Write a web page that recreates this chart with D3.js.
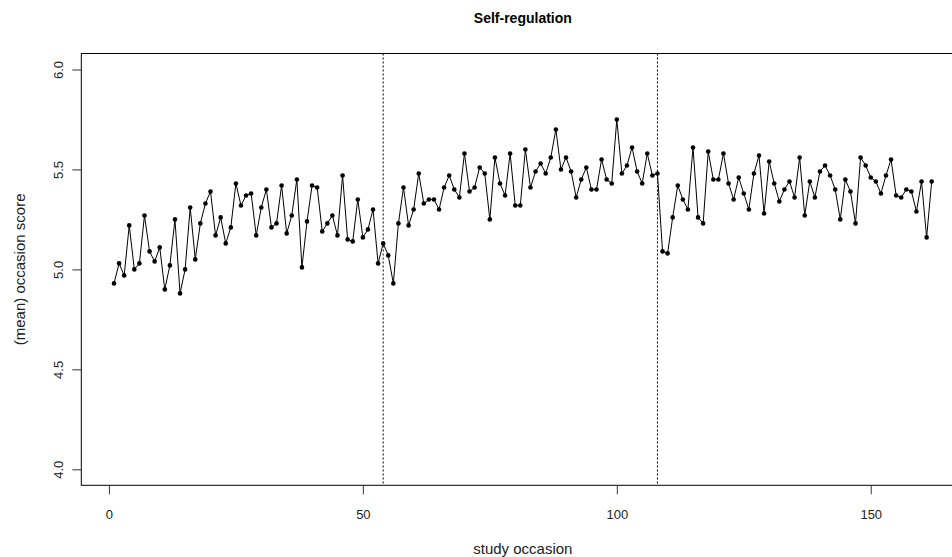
<!DOCTYPE html>
<html>
<head>
<meta charset="utf-8">
<script src="https://cdn.jsdelivr.net/npm/d3@7"></script>
<style>
  body { margin: 0; background: #fff; }
  svg { display: block; font-family: "Liberation Sans", Arial, sans-serif; }
</style>
</head>
<body>
<div id="graf"></div>
<script>
// mean self-regulation score per study occasion (1..162)
const scores = [
  4.93, 5.03, 4.97, 5.22, 5.00, 5.03, 5.27, 5.09, 5.04, 5.11,
  4.90, 5.02, 5.25, 4.88, 5.00, 5.31, 5.05, 5.23, 5.33, 5.39,
  5.17, 5.26, 5.13, 5.21, 5.43, 5.32, 5.37, 5.38, 5.17, 5.31,
  5.40, 5.21, 5.23, 5.42, 5.18, 5.27, 5.45, 5.01, 5.24, 5.42,
  5.41, 5.19, 5.23, 5.27, 5.17, 5.47, 5.15, 5.14, 5.35, 5.16,
  5.20, 5.30, 5.03, 5.13, 5.07, 4.93, 5.23, 5.41, 5.22, 5.30,
  5.48, 5.33, 5.35, 5.35, 5.30, 5.41, 5.47, 5.40, 5.36, 5.58,
  5.39, 5.41, 5.51, 5.48, 5.25, 5.56, 5.43, 5.37, 5.58, 5.32,
  5.32, 5.60, 5.41, 5.49, 5.53, 5.48, 5.56, 5.70, 5.50, 5.56,
  5.49, 5.36, 5.45, 5.51, 5.40, 5.40, 5.55, 5.45, 5.43, 5.75,
  5.48, 5.52, 5.61, 5.49, 5.43, 5.58, 5.47, 5.48, 5.09, 5.08,
  5.26, 5.42, 5.35, 5.30, 5.61, 5.26, 5.23, 5.59, 5.45, 5.45,
  5.58, 5.43, 5.35, 5.46, 5.38, 5.30, 5.48, 5.57, 5.28, 5.54,
  5.43, 5.34, 5.40, 5.44, 5.36, 5.56, 5.27, 5.44, 5.36, 5.49,
  5.52, 5.47, 5.40, 5.25, 5.45, 5.39, 5.23, 5.56, 5.52, 5.46,
  5.44, 5.38, 5.47, 5.55, 5.37, 5.36, 5.40, 5.39, 5.29, 5.44,
  5.16, 5.44
];
const occasions = scores.map((_, i) => i + 1);
const phaseBreaks = [54, 108];
const xTicks = [0, 50, 100, 150];
const yTicks = [4.0, 4.5, 5.0, 5.5, 6.0];

const ancho_total = 952;
const alto_total = 557;

// plot box (right side runs past the window, as in the original)
const box = { left: 81.3, right: 964.4, top: 53.5, bottom: 485.3 };

const svg = d3
  .select("#graf")
  .append("svg")
  .attr("width", ancho_total)
  .attr("height", alto_total);

const x = d3.scaleLinear().domain([-5.44, 168.44]).range([box.left, box.right]);
const y = d3.scaleLinear().domain([3.92, 6.08]).range([box.bottom, box.top]);

svg
  .append("rect")
  .attr("x", box.left)
  .attr("y", box.top)
  .attr("width", box.right - box.left)
  .attr("height", box.bottom - box.top)
  .attr("fill", "none")
  .attr("stroke", "#000")
  .attr("stroke-width", 1);

// axes, R style: detached from box, ticks only over range
const xAxis = svg
  .append("g")
  .attr("transform", `translate(0,${box.bottom})`)
  .call(d3.axisBottom(x).tickValues(xTicks).tickSize(9).tickPadding(15).tickFormat(d3.format("d")));
xAxis.select(".domain").remove();

const yAxis = svg
  .append("g")
  .attr("transform", `translate(${box.left},0)`)
  .call(d3.axisLeft(y).tickValues(yTicks).tickSize(9).tickFormat(d3.format(".1f")));
yAxis.select(".domain").remove();
yAxis
  .selectAll(".tick text")
  .attr("transform", "rotate(-90)")
  .attr("x", 0)
  .attr("y", -23)
  .attr("dy", "0.35em")
  .attr("text-anchor", "middle");

svg.selectAll(".tick text").attr("font-size", 13).attr("fill", "#222");
svg.selectAll(".tick line").attr("stroke", "#333");

// phase separators
svg
  .selectAll(".sep")
  .data(phaseBreaks)
  .join("line")
  .attr("class", "sep")
  .attr("x1", (d) => x(d))
  .attr("x2", (d) => x(d))
  .attr("y1", box.top)
  .attr("y2", box.bottom)
  .attr("stroke", "#000")
  .attr("stroke-dasharray", "2,2");

const datos = occasions.map((o, i) => ({ o: o, v: scores[i] }));

const linea = d3
  .line()
  .x((d) => x(d.o))
  .y((d) => y(d.v));

svg
  .append("path")
  .datum(datos)
  .attr("d", linea)
  .attr("fill", "none")
  .attr("stroke", "#000")
  .attr("stroke-width", 1);

svg
  .selectAll(".dot")
  .data(datos)
  .join("circle")
  .attr("class", "dot")
  .attr("cx", (d) => x(d.o))
  .attr("cy", (d) => y(d.v))
  .attr("r", 2.3)
  .attr("fill", "#000");

svg
  .append("text")
  .attr("x", (box.left + box.right) / 2)
  .attr("y", 23)
  .attr("text-anchor", "middle")
  .attr("font-size", 14)
  .attr("font-weight", "bold")
  .text("Self-regulation");

svg
  .append("text")
  .attr("x", (box.left + box.right) / 2)
  .attr("y", 554)
  .attr("text-anchor", "middle")
  .attr("font-size", 15)
  .attr("fill", "#222")
  .text("study occasion");

svg
  .append("text")
  .attr("transform", `translate(20,${(box.top + box.bottom) / 2}) rotate(-90)`)
  .attr("text-anchor", "middle")
  .attr("dy", "0.35em")
  .attr("font-size", 15)
  .attr("fill", "#222")
  .text("(mean) occasion score");
</script>
</body>
</html>
